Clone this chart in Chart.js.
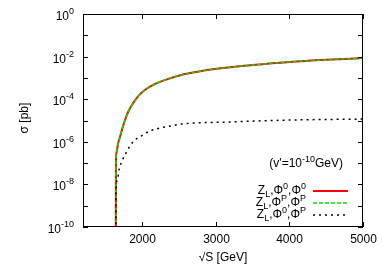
<!DOCTYPE html>
<html>
<head>
<meta charset="utf-8">
<script src="https://cdn.jsdelivr.net/npm/chart.js@4"></script>
<style>
  html, body { margin: 0; padding: 0; background: #fff; }
  canvas { display: block; }
</style>
</head>
<body>
<canvas id="sigma" width="382" height="267"></canvas>
<script>
// sqrt(S) in GeV and cross sections in pb
const sqrtS = [1645, 1647, 1655, 1675, 1700, 1740, 1768, 1812, 1850, 1903, 1960, 2038, 2173, 2308, 2533, 2758, 2984, 3500, 4000, 4500, 5000];
const sigmaZ00 = [1e-11, 1e-7, 3.2e-7, 8e-7, 1.6e-6, 5e-6, 1e-5, 2.5e-5, 4.4e-5, 8.5e-5, 1.5e-4, 2.7e-4, 5.1e-4, 7.9e-4, 1.38e-3, 1.95e-3, 2.6e-3, 4.0e-3, 5.6e-3, 7.1e-3, 8.5e-3];
const sigmaZPP = [1e-11, 1e-7, 3.2e-7, 8e-7, 1.6e-6, 5e-6, 1e-5, 2.5e-5, 4.4e-5, 8.5e-5, 1.5e-4, 2.7e-4, 5.1e-4, 7.9e-4, 1.38e-3, 1.95e-3, 2.6e-3, 4.0e-3, 5.6e-3, 7.1e-3, 8.5e-3];
const sqrtS0P = [1645, 1647, 1666, 1690, 1730, 1800, 1880, 1993, 2105, 2240, 2398, 2533, 3186, 4000, 5000];
const sigmaZ0P = [1e-11, 4e-9, 1.6e-8, 5e-8, 1.26e-7, 3.8e-7, 1e-6, 1.9e-6, 3.2e-6, 4.4e-6, 5.6e-6, 6.8e-6, 8.5e-6, 1.05e-5, 1.17e-5];

const xTicks = [2000, 3000, 4000, 5000];
const yExponents = [0, -1, -2, -3, -4, -5, -6, -7, -8, -9, -10];

// legend labels: Z_L,Phi^a,Phi^b
const labels = [
    [['Z'], ['L', 'sub'], [',Φ'], ['0', 'sup'], [',Φ'], ['0', 'sup']],
    [['Z'], ['L', 'sub'], [',Φ'], ['P', 'sup'], [',Φ'], ['P', 'sup']],
    [['Z'], ['L', 'sub'], [',Φ'], ['0', 'sup'], [',Φ'], ['P', 'sup']]
];

const FONT = '"Liberation Sans", Arial, sans-serif';

function pts(xs, ys) {
    return xs.map((x, i) => ({ x: x, y: ys[i] }));
}

// draw text made of pieces with sub/superscripts
function richText(ctx, parts, x, y, size, align) {
    const small = Math.round(size * 0.75);
    let w = 0;
    parts.forEach(p => {
        ctx.font = (p[1] ? small : size) + 'px ' + FONT;
        w += ctx.measureText(p[0]).width;
    });
    let cx = align === 'right' ? x - w : (align === 'center' ? x - w / 2 : x);
    ctx.textAlign = 'left';
    ctx.textBaseline = 'middle';
    parts.forEach(p => {
        ctx.font = (p[1] ? small : size) + 'px ' + FONT;
        let dy = 0;
        if (p[1] === 'sup') dy = -size * 0.4;
        if (p[1] === 'sub') dy = size * 0.3;
        ctx.fillText(p[0], cx, y + dy);
        cx += ctx.measureText(p[0]).width;
    });
}

const frame = {
    id: 'frame',
    afterDraw(chart) {
        const ctx = chart.ctx;
        const a = chart.chartArea;
        const xs = chart.scales.x;
        const ys = chart.scales.y;
        ctx.save();
        ctx.strokeStyle = '#000';
        ctx.fillStyle = '#000';
        ctx.lineWidth = 1;
        ctx.strokeRect(a.left + 0.5, a.top + 0.5, a.right - a.left - 1, a.bottom - a.top - 1);

        // y ticks, labels on even decades
        yExponents.forEach(e => {
            const y = Math.round(ys.getPixelForValue(Math.pow(10, e))) + 0.5;
            ctx.beginPath();
            ctx.moveTo(a.left, y); ctx.lineTo(a.left + 5, y);
            ctx.moveTo(a.right, y); ctx.lineTo(a.right - 5, y);
            ctx.stroke();
            if (e % 2 === 0) {
                richText(ctx, [['10'], [String(e), 'sup']], 74, y + 2, 12, 'right');
            }
        });

        // x ticks
        xTicks.forEach(v => {
            const x = Math.round(xs.getPixelForValue(v)) + 0.5;
            ctx.beginPath();
            ctx.moveTo(x, a.bottom); ctx.lineTo(x, a.bottom - 5);
            ctx.moveTo(x, a.top); ctx.lineTo(x, a.top + 5);
            ctx.stroke();
            ctx.font = '12px ' + FONT;
            ctx.textAlign = 'center';
            ctx.textBaseline = 'middle';
            ctx.fillText(String(v), x, a.bottom + 13);
        });

        // axis titles
        ctx.font = '12px ' + FONT;
        ctx.textAlign = 'center';
        ctx.textBaseline = 'middle';
        ctx.fillText('√S [GeV]', (a.left + a.right) / 2, 258);
        ctx.save();
        ctx.translate(25, 118);
        ctx.rotate(-Math.PI / 2);
        ctx.fillText('σ [pb]', 0, 0);
        ctx.restore();

        // note
        richText(ctx, [["(v'=10"], ['-10', 'sup'], ['GeV)']], 343, 164, 12, 'right');

        // legend
        const styles = chart.data.datasets;
        labels.forEach((lab, i) => {
            const y = 191 + i * 12;
            richText(ctx, lab, 306, y, 12, 'right');
            const ds = styles[i];
            ctx.save();
            ctx.strokeStyle = ds.borderColor;
            ctx.lineWidth = ds.borderWidth;
            ctx.setLineDash(ds.borderDash || []);
            ctx.beginPath();
            ctx.moveTo(313, y); ctx.lineTo(348, y);
            ctx.stroke();
            ctx.restore();
        });
        ctx.restore();
    }
};

new Chart(document.getElementById('sigma'), {
    type: 'line',
    data: {
        datasets: [{
            label: 'Z_L,Phi0,Phi0',
            data: pts(sqrtS, sigmaZ00),
            borderColor: '#ff0000',
            borderWidth: 2,
            order: 2
        }, {
            label: 'Z_L,PhiP,PhiP',
            data: pts(sqrtS, sigmaZPP),
            borderColor: '#00e000',
            borderWidth: 1.5,
            borderDash: [4, 2],
            order: 1
        }, {
            label: 'Z_L,Phi0,PhiP',
            data: pts(sqrtS0P, sigmaZ0P),
            borderColor: '#000000',
            borderWidth: 1.5,
            borderDash: [2, 4],
            order: 0
        }]
    },
    options: {
        responsive: false,
        animation: false,
        devicePixelRatio: 1,
        layout: { padding: { left: 0, right: 19, top: 14, bottom: 0 } },
        elements: {
            point: { radius: 0 },
            line: { cubicInterpolationMode: 'monotone', fill: false }
        },
        plugins: { legend: { display: false }, tooltip: { enabled: false } },
        scales: {
            x: {
                type: 'linear',
                min: 1200,
                max: 5000,
                grid: { display: false },
                border: { display: false },
                ticks: { display: false },
                afterFit: s => { s.height = 40; }
            },
            y: {
                type: 'logarithmic',
                min: 1e-10,
                max: 1,
                grid: { display: false },
                border: { display: false },
                ticks: { display: false },
                afterFit: s => { s.width = 83; }
            }
        }
    },
    plugins: [frame]
});
</script>
</body>
</html>
